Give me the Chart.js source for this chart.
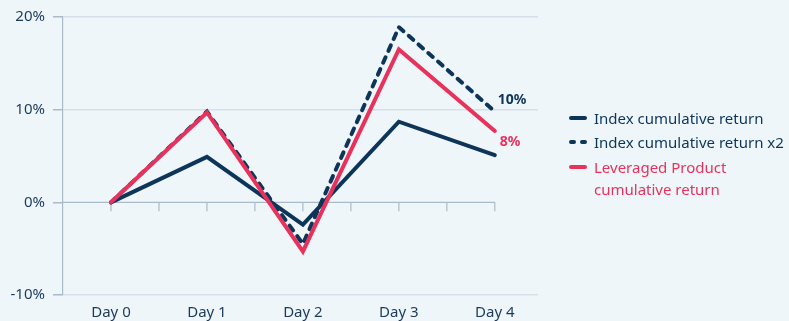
<!DOCTYPE html>
<html>
<head>
<meta charset="utf-8">
<script src="https://cdn.jsdelivr.net/npm/chart.js@4"></script>
<style>
  html, body { margin: 0; padding: 0; background: #eff6fa; }
  #wrap { position: relative; width: 789px; height: 321px; }
  canvas { position: absolute; left: 0; top: 0; }
  .lg { position: absolute; left: 569px; font-family: "Noto Sans", sans-serif; font-size: 15px; line-height: 22px; }
  .lg svg { position: absolute; left: 0; top: 7px; }
  .lg span { position: absolute; left: 25px; top: 0; white-space: nowrap; }
</style>
</head>
<body>
<div id="wrap">
  <canvas id="c" width="789" height="321"></canvas>
  <div id="legend"></div>
</div>
<script>
const categories = ["Day 0", "Day 1", "Day 2", "Day 3", "Day 4"];
const indexReturn = [0, 4.9, -2.4, 8.7, 5.1];
const indexReturnX2 = [0, 9.8, -4.5, 18.9, 9.8];
const leveragedReturn = [0, 9.7, -5.3, 16.5, 7.7];
const seriesNames = ["Index cumulative return", "Index cumulative return x2", ["Leveraged Product", "cumulative return"]];
const endLabels = ["", "10%", "8%"];
const yTicks = [-10, 0, 10, 20];

const NAVY = "#0c3559";
const RED = "#e8315b";
const TEXT = "#1b3a5c";
const FONT = '"Noto Sans", sans-serif';

function pts(arr) { return arr.map((v, i) => ({ x: i, y: v })); }

const zeroLinePlugin = {
  id: "zeroLine",
  beforeDatasetsDraw(chart) {
    const { ctx, scales: { x, y }, chartArea } = chart;
    const y0 = y.getPixelForValue(0);
    const xEnd = x.getPixelForValue(categories.length - 1);
    ctx.save();
    ctx.strokeStyle = "#a9bbcb";
    ctx.lineWidth = 1.2;
    ctx.beginPath();
    ctx.moveTo(chartArea.left, y0);
    ctx.lineTo(xEnd, y0);
    for (let i = 0; i <= (categories.length - 1) * 2; i++) {
      const px = x.getPixelForValue(i / 2);
      ctx.moveTo(px, y0);
      ctx.lineTo(px, y0 + 9);
    }
    ctx.stroke();
    ctx.restore();
  }
};

const endLabelPlugin = {
  id: "endLabels",
  afterDatasetsDraw(chart) {
    const { ctx, scales: { x, y } } = chart;
    ctx.save();
    ctx.font = "bold 14px " + FONT;
    ctx.textAlign = "left";
    ctx.textBaseline = "middle";
    const last = categories.length - 1;
    ctx.fillStyle = NAVY;
    ctx.fillText(endLabels[1], x.getPixelForValue(last) + 3, y.getPixelForValue(indexReturnX2[last]) - 12);
    ctx.fillStyle = RED;
    ctx.fillText(endLabels[2], x.getPixelForValue(last) + 5, y.getPixelForValue(leveragedReturn[last]) + 11);
    ctx.restore();
  }
};

new Chart(document.getElementById("c"), {
  type: "line",
  data: {
    datasets: [
      { label: seriesNames[0], data: pts(indexReturn), borderColor: NAVY, borderWidth: 4, pointRadius: 0, order: 3, borderCapStyle: "round", borderJoinStyle: "miter" },
      { label: seriesNames[1], data: pts(indexReturnX2), borderColor: NAVY, borderWidth: 4, borderDash: [6, 7], borderCapStyle: "round", pointRadius: 0, order: 2 },
      { label: seriesNames[2].join(" "), data: pts(leveragedReturn), borderColor: RED, borderWidth: 4, pointRadius: 0, order: 1, borderCapStyle: "round", borderJoinStyle: "miter" }
    ]
  },
  options: {
    responsive: false,
    animation: false,
    events: [],
    layout: { padding: { top: 9, right: 251, left: 0, bottom: 0 } },
    plugins: { legend: { display: false }, tooltip: { enabled: false } },
    scales: {
      x: {
        type: "linear",
        min: -0.5,
        max: 4.45,
        afterBuildTicks(scale) { scale.ticks = categories.map((_, i) => ({ value: i })); },
        afterFit(scale) { scale.height = 26; },
        grid: { display: false, drawTicks: false },
        border: { display: false },
        ticks: {
          color: TEXT,
          font: { family: FONT, size: 15 },
          padding: 9,
          maxRotation: 0,
          callback: (v) => categories[v]
        }
      },
      y: {
        min: -10,
        max: 20,
        afterBuildTicks(scale) { scale.ticks = yTicks.map(v => ({ value: v })); },
        afterFit(scale) { scale.width = 63; },
        border: { display: true, color: "#a9bbcb", width: 1.2 },
        grid: {
          color: (c) => c.tick && c.tick.value === 0 ? "rgba(0,0,0,0)" : "#d6e0ea",
          tickColor: "#a9bbcb",
          lineWidth: 1.5,
          tickLength: 10
        },
        ticks: {
          color: TEXT,
          font: { family: FONT, size: 15 },
          padding: 8,
          callback: (v) => v + "%"
        }
      }
    }
  },
  plugins: [zeroLinePlugin, endLabelPlugin]
});

const legendEl = document.getElementById("legend");
const legendItems = [
  { text: seriesNames[0], color: NAVY, dash: false, top: 107 },
  { text: seriesNames[1], color: NAVY, dash: true, top: 131 },
  { text: seriesNames[2], color: RED, dash: false, top: 156 }
];
legendItems.forEach(it => {
  const d = document.createElement("div");
  d.className = "lg";
  d.style.top = it.top + "px";
  d.style.color = it.color;
  const line = it.dash
    ? '<line x1="2" y1="4" x2="16" y2="4" stroke="' + it.color + '" stroke-width="4" stroke-linecap="round" stroke-dasharray="3 8"/>'
    : '<line x1="2" y1="4" x2="16" y2="4" stroke="' + it.color + '" stroke-width="4" stroke-linecap="round"/>';
  d.innerHTML = '<svg width="20" height="8">' + line + '</svg>';
  const s = document.createElement("span");
  const lines = Array.isArray(it.text) ? it.text : [it.text];
  lines.forEach((t, i) => {
    if (i) s.appendChild(document.createElement("br"));
    s.appendChild(document.createTextNode(t));
  });
  d.appendChild(s);
  legendEl.appendChild(d);
});
</script>
</body>
</html>
